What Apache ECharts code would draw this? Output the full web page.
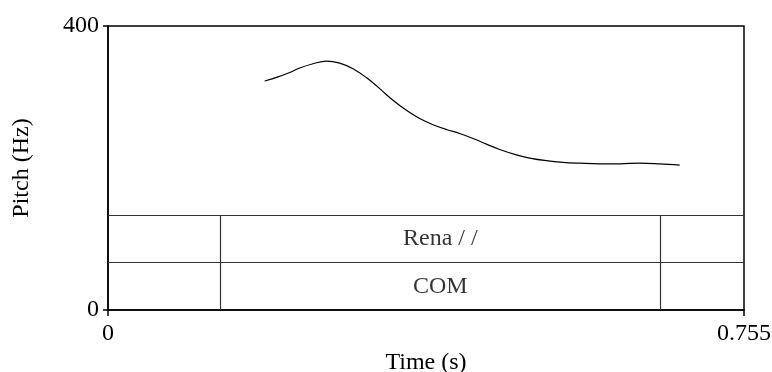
<!DOCTYPE html>
<html>
<head>
<meta charset="utf-8">
<script src="https://cdn.jsdelivr.net/npm/echarts@6/dist/echarts.min.js"></script>
<style>
  html, body { margin: 0; padding: 0; background: #fff; }
  #chart { width: 772px; height: 372px; }
</style>
</head>
<body>
<div id="chart"></div>
<script>
// Pitch contour (time in seconds, pitch in Hz)
const times   = [0.186, 0.2018, 0.2157, 0.2276, 0.2434, 0.2593, 0.2750, 0.2908, 0.3067, 0.3225, 0.3383, 0.3542, 0.3700, 0.3858, 0.4017, 0.4175, 0.4333, 0.4492, 0.4650, 0.4848, 0.5006, 0.5204, 0.5400, 0.5599, 0.5837, 0.6075, 0.6312, 0.6550, 0.6787];
const pitches = [322.5, 328.3, 334.6, 340.8, 346.8, 350.6, 347.8, 339.9, 327.4, 311.8, 295.4, 281.3, 269.6, 261.0, 254.2, 248.6, 241.6, 233.6, 226.1, 218.5, 214.0, 210.3, 208.0, 206.8, 205.9, 205.9, 207.0, 205.9, 204.1];

// Axis ranges and tick labels
const timeMax = 0.755;
const pitchMax = 400;
const xTickLabels = ['0', '0.755'];
const yTickLabels = ['0', '400'];

// Annotation tiers: interval boundaries and the text of each tier
const tierBounds = [0.133, 0.656];
const tierLabels = ['Rena / /', 'COM'];

const font = '"Liberation Serif", "Times New Roman", serif';
const fontSize = 24;
const tierColor = '#333';

// Tiers sit in the lower third of the pitch range, one row each
const rowH = pitchMax / 3 / tierLabels.length;
const tierTop = rowH * tierLabels.length;

const lineData = times.map((t, i) => [t, pitches[i]]);

const tierLines = [];
// horizontal row separators (top of each row)
for (let r = 0; r < tierLabels.length; r++) {
  const y = tierTop - r * rowH;
  tierLines.push([{ coord: [0, y] }, { coord: [timeMax, y] }]);
}
// vertical interval boundaries through all tiers
tierBounds.forEach(b => {
  tierLines.push([{ coord: [b, 0] }, { coord: [b, tierTop] }]);
});

const mid = (tierBounds[0] + tierBounds[1]) / 2;
const tierText = tierLabels.map((txt, r) => ({
  name: txt,
  value: [mid, tierTop - (r + 0.5) * rowH]
}));

const chart = echarts.init(document.getElementById('chart'), null, { renderer: 'canvas' });
chart.setOption({
  animation: false,
  backgroundColor: '#fff',
  grid: {
    left: 108, right: 28, top: 26, bottom: 62,
    outerBoundsMode: 'none',
    containLabel: false,
    show: true, borderColor: '#000', borderWidth: 1.5, backgroundColor: 'transparent'
  },
  xAxis: {
    type: 'value',
    min: 0, max: timeMax, interval: timeMax,
    name: 'Time (s)',
    nameLocation: 'middle',
    nameGap: 39,
    nameTextStyle: { fontFamily: font, fontSize: fontSize, color: '#000' },
    axisLine: { show: true, lineStyle: { color: '#000', width: 1.5 } },
    axisTick: { show: true, length: 6, lineStyle: { color: '#000', width: 1.5 } },
    axisLabel: {
      fontFamily: font, fontSize: fontSize, color: '#000', margin: 12,
      formatter: v => (v === 0 ? xTickLabels[0] : xTickLabels[1])
    },
    splitLine: { show: false }
  },
  yAxis: {
    type: 'value',
    min: 0, max: pitchMax, interval: pitchMax,
    name: 'Pitch (Hz)',
    nameLocation: 'middle',
    nameGap: 74,
    nameRotate: 90,
    nameTextStyle: { fontFamily: font, fontSize: fontSize, color: '#000' },
    axisLine: { show: true, lineStyle: { color: '#000', width: 1.5 } },
    axisTick: { show: true, length: 5, lineStyle: { color: '#000', width: 1.5 } },
    axisLabel: {
      fontFamily: font, fontSize: fontSize, color: '#000', margin: 9,
      formatter: v => (v === 0 ? yTickLabels[0] : yTickLabels[1])
    },
    splitLine: { show: false }
  },
  series: [
    {
      type: 'line',
      data: lineData,
      smooth: 0.4,
      showSymbol: false,
      symbol: 'none',
      lineStyle: { color: '#000', width: 1.2 },
      silent: true,
      markLine: {
        silent: true,
        symbol: ['none', 'none'],
        label: { show: false },
        lineStyle: { color: tierColor, width: 1.2, type: 'solid' },
        data: tierLines
      }
    },
    {
      type: 'scatter',
      data: tierText,
      symbolSize: 0,
      silent: true,
      itemStyle: { color: '#000' },
      label: {
        show: true,
        position: 'inside',
        formatter: p => p.name,
        fontFamily: font,
        fontSize: fontSize,
        color: '#000',
        textBorderWidth: 0
      }
    }
  ]
});
</script>
</body>
</html>
